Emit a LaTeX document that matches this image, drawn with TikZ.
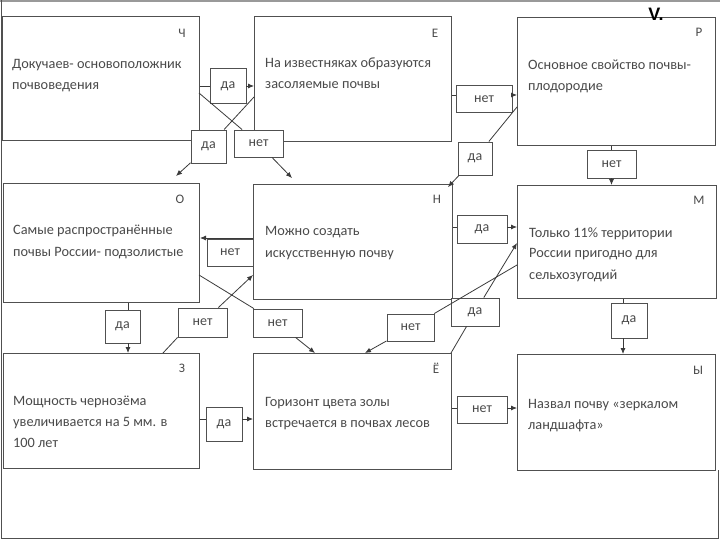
\documentclass[tikz,border=0pt]{standalone}
\usepackage{fontspec}
\setmainfont{Carlito}
\newfontfamily\vfont{Liberation Sans}
\usetikzlibrary{arrows.meta,calc}
\definecolor{frame}{HTML}{505050}
\definecolor{txt}{HTML}{4A4A4A}
\definecolor{linec}{HTML}{3A3A3A}
\begin{document}
\begin{tikzpicture}[x=1pt,y=-1pt,
  bigbox/.style={draw=frame, line width=1pt, fill=white, anchor=north west, inner sep=0pt},
  lab/.style={draw=frame, line width=0.9pt, fill=white, inner sep=0pt, text=txt, font=\fontsize{14}{14}\selectfont},
  body/.style={anchor=base west, align=left, inner sep=0pt, text=txt, font=\fontsize{14.3}{21}\selectfont},
  corner/.style={inner sep=0pt, text=txt, font=\fontsize{13}{13}\selectfont},
  conn/.style={draw=linec, line width=0.8pt},
  arr/.style={conn, -{Latex[length=6pt,width=5pt]}}]
\useasboundingbox (0,0) rectangle (720,540);
% slide frame
\draw[gray!80, line width=2.5pt] (0,1.2) -- (720,1.2);
\draw[frame, line width=1pt] (1.5,0) -- (1.5,538.5) -- (718.5,538.5) -- (718.5,470);

% big boxes
\node[bigbox, minimum width=197pt, minimum height=124pt] (ch) at (2,16) {};
\node[bigbox, minimum width=197pt, minimum height=125pt] (e)  at (254,16) {};
\node[bigbox, minimum width=198pt, minimum height=128pt] (p)  at (517,17) {};
\node[bigbox, minimum width=196pt, minimum height=119pt] (o)  at (3,183) {};
\node[bigbox, minimum width=199pt, minimum height=115pt] (n)  at (253,184) {};
\node[bigbox, minimum width=199pt, minimum height=113pt] (m)  at (517,185) {};
\node[bigbox, minimum width=196pt, minimum height=115pt] (z)  at (3,353) {};
\node[bigbox, minimum width=198pt, minimum height=116pt] (yo) at (253,353) {};
\node[bigbox, minimum width=198pt, minimum height=116pt] (y)  at (517,354) {};

\node[font=\vfont\bfseries\fontsize{18}{18}\selectfont, inner sep=0pt] (vlabel) at (656,14) {V.};

% corner letters
\node[corner] (cch) at (182,33) {Ч};
\node[corner] (ce)  at (435,33) {Е};
\node[corner] (cp)  at (699,32) {Р};
\node[corner] (co)  at (180,199) {О};
\node[corner] (cn)  at (437,199) {Н};
\node[corner] (cm)  at (699,200) {М};
\node[corner] (cz)  at (182,368) {З};
\node[corner] (cyo) at (436,368) {Ё};
\node[corner] (cy)  at (698,370) {Ы};

% texts (anchor = baseline of last line)
\node[body] (tch) at (12,90)  {Докучаев- основоположник\\почвоведения};
\node[body] (te)  at (265,89) {На известняках образуются\\засоляемые почвы};
\node[body] (tp)  at (528,91) {Основное свойство почвы-\\плодородие};
\node[body] (to)  at (13,256) {Самые распространённые\\почвы России- подзолистые};
\node[body] (tn)  at (265,257) {Можно создать\\искусственную почву};
\node[body] (tm)  at (529,279) {Только 11\% территории\\России пригодно для\\сельхозугодий};
\node[body] (tz)  at (13,447) {Мощность чернозёма\\увеличивается на 5 мм. в\\100 лет};
\node[body] (tyo) at (265,427) {Горизонт цвета золы\\встречается в почвах лесов};
\node[body] (ty)  at (528,429) {Назвал почву «зеркалом\\ландшафта»};

% label boxes
\node[lab, minimum width=36pt, minimum height=35pt] (l1)  at (228,86) {да};
\node[lab, minimum width=35pt, minimum height=33pt] (l2)  at (208.5,146.5) {да};
\node[lab, minimum width=49pt, minimum height=27pt] (l3)  at (258.5,143.5) {нет};
\node[lab, minimum width=56pt, minimum height=27pt] (l4)  at (484,99) {нет};
\node[lab, minimum width=34pt, minimum height=33pt] (l5)  at (475,158.5) {да};
\node[lab, minimum width=49pt, minimum height=28pt] (l6)  at (611.5,164) {нет};
\node[lab, minimum width=46pt, minimum height=27pt] (l7)  at (230,252.5) {нет};
\node[lab, minimum width=50pt, minimum height=28pt] (l8)  at (482,229) {да};
\node[lab, minimum width=35pt, minimum height=33pt] (l9)  at (122.5,326.5) {да};
\node[lab, minimum width=49pt, minimum height=29pt] (l10) at (202.5,322.5) {нет};
\node[lab, minimum width=49pt, minimum height=28pt] (l11) at (277.5,323) {нет};
\node[lab, minimum width=47pt, minimum height=27pt] (l12) at (410.5,327.5) {нет};
\node[lab, minimum width=48pt, minimum height=28pt] (l13) at (475,312) {да};
\node[lab, minimum width=36pt, minimum height=35pt] (l14) at (629,320.5) {да};
\node[lab, minimum width=36pt, minimum height=34pt] (l15) at (224,424) {да};
\node[lab, minimum width=50pt, minimum height=27pt] (l16) at (482,409.5) {нет};

% helper coordinates
\coordinate (chA) at (199,93);
\coordinate (eA) at (254,97);
\coordinate (nT1) at (292,178);
\coordinate (oT1) at (176,176);
\coordinate (pA) at (517,107);
\coordinate (nT2) at (448,187);
\coordinate (zA) at (163,353);
\coordinate (nL) at (253,275);
\coordinate (oA) at (199,275);
\coordinate (yoT1) at (315,353);
\coordinate (mA) at (517,265);
\coordinate (yoT2) at (365,353);
\coordinate (yoTR) at (451,353);
\coordinate (mL) at (517,243);
\coordinate (h4) at (484,95);
\coordinate (h7) at (230,238);
\coordinate (h8) at (482,227);
\coordinate (v9) at (128,326);
\coordinate (v14) at (623,320);
\coordinate (h15) at (224,419);
\coordinate (h16) at (482,408);

% connectors
\draw[conn] (l1.west -| ch.east) -- (l1.west);
\draw[arr] (l1.east) -- (l1.east -| e.west);
\draw[conn] (chA) -- (l3);
\draw[arr] (l3) -- (nT1);
\draw[conn] (eA) -- (l2);
\draw[arr] (l2) -- (oT1);
\draw[conn] (e.east |- h4) -- (l4.west |- h4);
\draw[arr] (l4.east |- h4) -- (p.west |- h4);
\draw[conn] (pA) -- (l5);
\draw[arr] (l5) -- (nT2);
\draw[conn] (p.south -| l6) -- (l6.north);
\draw[arr] (l6.south) -- (m.north -| l6);
\draw[arr] (n.west |- h7) -- (o.east |- h7);
\draw[conn] (n.east |- h8) -- (l8.west |- h8);
\draw[arr] (l8.east |- h8) -- (m.west |- h8);
\draw[conn] (o.south -| v9) -- (l9.north -| v9);
\draw[arr] (l9.south -| v9) -- (z.north -| v9);
\draw[conn] (zA) -- (l10.south west);
\draw[arr] (l10) -- (nL);
\draw[conn] (oA) -- (l11);
\draw[arr] (l11) -- (yoT1);
\draw[conn] (mA) -- (l12);
\draw[arr] (l12) -- (yoT2);
\draw[conn] (yoTR) -- (l13);
\draw[arr] (l13) -- (mL);
\draw[conn] (m.south -| v14) -- (l14.north -| v14);
\draw[arr] (l14.south -| v14) -- (y.north -| v14);
\draw[conn] (z.east |- h15) -- (l15.west |- h15);
\draw[arr] (l15.east |- h15) -- (yo.west |- h15);
\draw[conn] (yo.east |- h16) -- (l16.west |- h16);
\draw[arr] (l16.east |- h16) -- (y.west |- h16);
\end{tikzpicture}
\end{document}
